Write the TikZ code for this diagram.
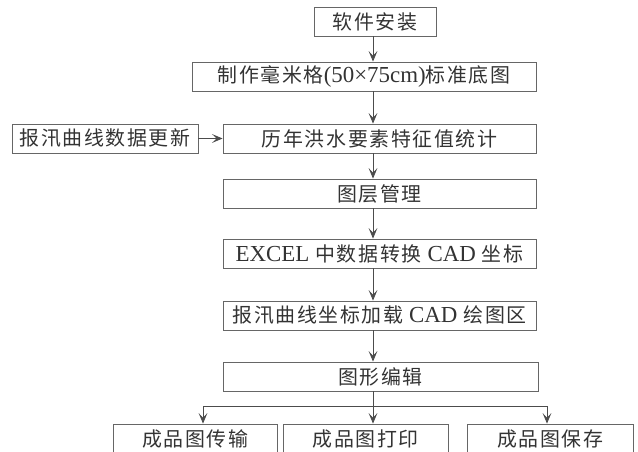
\documentclass[tikz,border=0pt]{standalone}
\usepackage{fontspec}
\setmainfont{Noto Sans CJK SC}[LetterSpace=8]
\newfontfamily\lat{Liberation Serif}[Scale=1.15]
\usepackage{tikz}
\usetikzlibrary{arrows.meta, positioning}

\begin{document}
\begin{tikzpicture}[
    x=0.03cm, y=-0.03cm,
    font=\fontsize{17}{19}\selectfont,
    step_box/.style={draw=black!60, line width=0.7pt, minimum height=0.87cm, inner sep=0pt, text=black!80},
    flow_arrow/.style={-{Stealth[length=9pt, width=7.5pt, inset=4pt]}, draw=black!70, line width=0.7pt}
]
\useasboundingbox (0,0) rectangle (638,452);
\coordinate (axis) at (373,0);

% MAIN CHAIN
\node[step_box, minimum width=3.66cm] (install) at (375,21.5) {软件安装};
\node[step_box, minimum width=10.32cm] (base) at (364,76.5) {制作毫米格{\lat(50×75cm)}标准底图};
\node[step_box, minimum width=9.39cm] (stats) at (379.5,138.5) {历年洪水要素特征值统计};
\node[step_box, minimum width=5.58cm] (update) at (105,138.5) {报汛曲线数据更新};
\node[step_box, minimum width=9.39cm] (layer) at (379.5,193.5) {图层管理};
\node[step_box, minimum width=9.39cm] (excel) at (379.5,253.5) {{\lat EXCEL} 中数据转换 {\lat CAD} 坐标};
\node[step_box, minimum width=9.39cm] (load) at (379.5,315.5) {报汛曲线坐标加载 {\lat CAD} 绘图区};
\node[step_box, minimum width=9.45cm] (edit) at (380.5,376.5) {图形编辑};

% OUTPUTS
\node[step_box, minimum width=4.92cm] (transfer) at (195,438.5) {成品图传输};
\node[step_box, minimum width=4.95cm] (print) at (365.5,438.5) {成品图打印};
\node[step_box, minimum width=4.98cm] (save) at (550,438.5) {成品图保存};

% ARROWS
\draw[flow_arrow] (install.south -| axis) -- (base.north -| axis);
\draw[flow_arrow] (base.south -| axis) -- (stats.north -| axis);
\draw[flow_arrow] (update) -- (stats);
\draw[flow_arrow] (stats.south -| axis) -- (layer.north -| axis);
\draw[flow_arrow] (layer.south -| axis) -- (excel.north -| axis);
\draw[flow_arrow] (excel.south -| axis) -- (load.north -| axis);
\draw[flow_arrow] (load.south -| axis) -- (edit.north -| axis);

\coordinate (fork) at (373,406);
\coordinate (fork_left) at (203,406);
\coordinate (fork_right) at (547,406);
\draw[draw=black!70, line width=0.7pt] (edit.south -| axis) -- (fork) (fork_left) -- (fork_right);
\draw[flow_arrow] (fork_left) -- (fork_left |- transfer.north);
\draw[flow_arrow] (fork) -- (fork |- print.north);
\draw[flow_arrow] (fork_right) -- (fork_right |- save.north);
\end{tikzpicture}
\end{document}
